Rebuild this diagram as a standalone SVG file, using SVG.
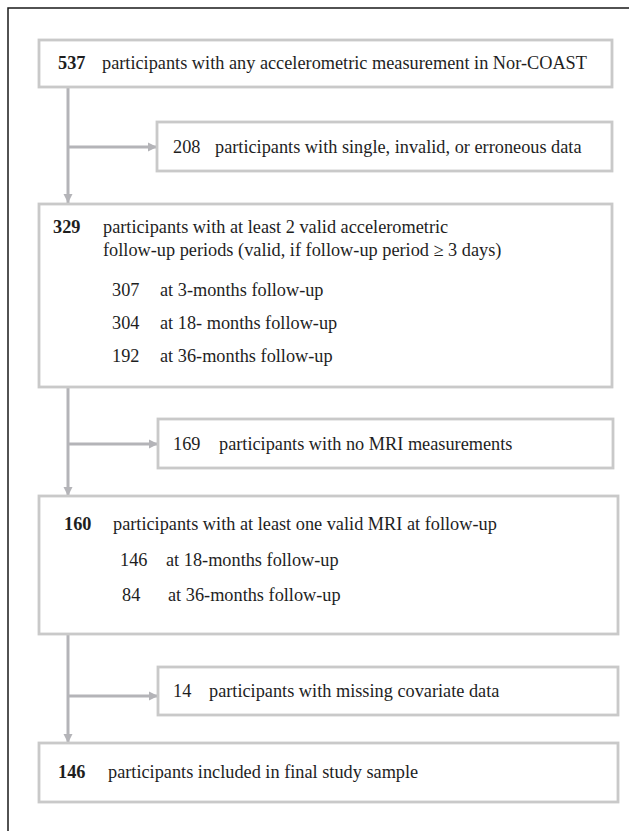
<svg xmlns="http://www.w3.org/2000/svg" width="629" height="831" viewBox="0 0 629 831">
<defs>
<style>
.box{fill:#ffffff;stroke:#c9c9c9;stroke-width:2.8}
.t{font-family:"Liberation Serif","Times New Roman",serif;font-size:18.3px;fill:#1e1e1e}
.b{font-weight:bold}
.conn{stroke:#b4b4b8;stroke-width:3;fill:none}
.frame{stroke:#1a1a1a;stroke-width:1.5;fill:none}
</style>
<marker id="ah" markerUnits="userSpaceOnUse" markerWidth="10" markerHeight="10" refX="9" refY="5" orient="auto">
<path d="M0,0.5 L9,5 L0,9.5 Z" fill="#b4b4b8"/>
</marker>
</defs>
<rect x="0" y="0" width="629" height="831" fill="#ffffff"/>
<path class="frame" d="M8,831 L8,8 L629,8"/>

<g id="connectors">
<path class="conn" d="M68,87 L68,203" marker-end="url(#ah)"/>
<path class="conn" d="M68,147 L157,147" marker-end="url(#ah)"/>
<path class="conn" d="M68,387 L68,496" marker-end="url(#ah)"/>
<path class="conn" d="M68,444 L158,444" marker-end="url(#ah)"/>
<path class="conn" d="M68,634 L68,743" marker-end="url(#ah)"/>
<path class="conn" d="M68,696 L158,696" marker-end="url(#ah)"/>
</g>

<g id="n537">
<rect class="box" x="39" y="40" width="573" height="47"/>
<text class="t b" x="58" y="69">537</text>
<text class="t" x="102" y="69">participants with any accelerometric measurement in Nor-COAST</text>
</g>

<g id="n208">
<rect class="box" x="157" y="122" width="455" height="49"/>
<text class="t" x="173" y="153">208</text>
<text class="t" x="215" y="153">participants with single, invalid, or erroneous data</text>
</g>

<g id="n329">
<rect class="box" x="39" y="204" width="573" height="183"/>
<text class="t b" x="53" y="233">329</text>
<text class="t" x="103" y="233">participants with at least 2 valid accelerometric</text>
<text class="t" x="103" y="256">follow-up periods (valid, if follow-up period ≥ 3 days)</text>
<text class="t" x="112" y="296">307</text>
<text class="t" x="160" y="296">at 3-months follow-up</text>
<text class="t" x="112" y="329">304</text>
<text class="t" x="160" y="329">at 18- months follow-up</text>
<text class="t" x="112" y="362">192</text>
<text class="t" x="160" y="362">at 36-months follow-up</text>
</g>

<g id="n169">
<rect class="box" x="158" y="419" width="455" height="49"/>
<text class="t" x="173" y="450">169</text>
<text class="t" x="219" y="450">participants with no MRI measurements</text>
</g>

<g id="n160">
<rect class="box" x="39" y="496" width="579" height="138"/>
<text class="t b" x="64" y="530">160</text>
<text class="t" x="113" y="530">participants with at least one valid MRI at follow-up</text>
<text class="t" x="120" y="566">146</text>
<text class="t" x="166" y="566">at 18-months follow-up</text>
<text class="t" x="122" y="601">84</text>
<text class="t" x="168" y="601">at 36-months follow-up</text>
</g>

<g id="n14">
<rect class="box" x="158" y="667" width="460" height="48"/>
<text class="t" x="173" y="697">14</text>
<text class="t" x="209" y="697">participants with missing covariate data</text>
</g>

<g id="n146">
<rect class="box" x="39" y="743" width="579" height="59"/>
<text class="t b" x="58" y="778">146</text>
<text class="t" x="108" y="778">participants included in final study sample</text>
</g>
</svg>
